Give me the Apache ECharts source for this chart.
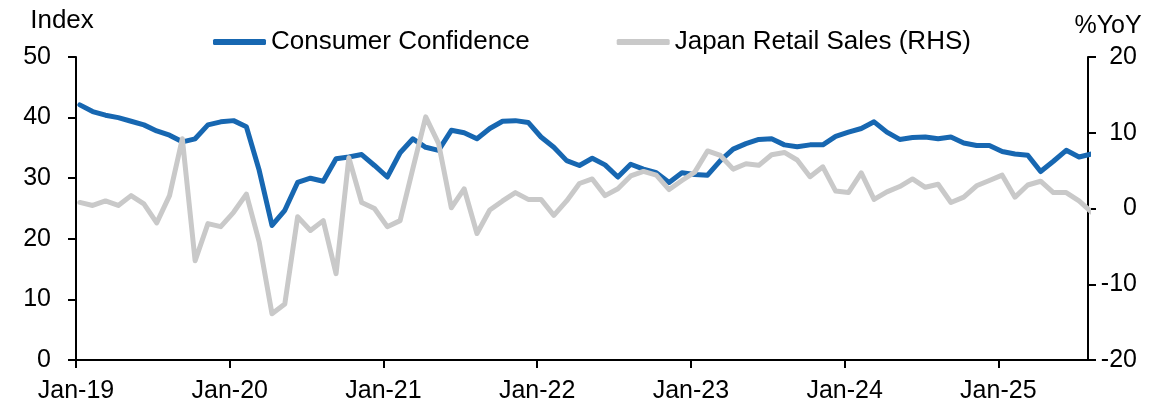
<!DOCTYPE html>
<html>
<head>
<meta charset="utf-8">
<script src="https://cdn.jsdelivr.net/npm/echarts@6/dist/echarts.min.js"></script>
<style>html,body{margin:0;padding:0;background:#fff}#c{width:1168px;height:409px}</style>
</head>
<body>
<div id="c"></div>
<script>
// Monthly categories Jan-19 .. Aug-25
const months = [];
for (let y = 19; y <= 25; y++) {
  ['Jan','Feb','Mar','Apr','May','Jun','Jul','Aug','Sep','Oct','Nov','Dec'].forEach(m => months.push(m + '-' + y));
}
months.length = 80;

const tickLabels = ['Jan-19','Jan-20','Jan-21','Jan-22','Jan-23','Jan-24','Jan-25'];
const leftTicks = [0, 10, 20, 30, 40, 50];
const rightTicks = [-20, -10, 0, 10, 20];

const consumerConfidence = [
  42.1, 41.0, 40.4, 40.0, 39.4, 38.8, 37.8, 37.1, 36.0, 36.5, 38.8, 39.3,
  39.5, 38.5, 31.3, 22.2, 24.7, 29.3, 30.0, 29.5, 33.2, 33.5, 33.9, 32.1,
  30.2, 34.2, 36.5, 35.1, 34.6, 37.9, 37.5, 36.5, 38.2, 39.4, 39.5, 39.2,
  36.8, 35.1, 32.9, 32.1, 33.3, 32.2, 30.2, 32.3, 31.5, 30.9, 29.3, 30.9,
  30.6, 30.5, 32.9, 34.8, 35.7, 36.4, 36.5, 35.5, 35.2, 35.5, 35.5, 36.9,
  37.6, 38.2, 39.3, 37.6, 36.4, 36.7, 36.8, 36.5, 36.8, 35.8, 35.4, 35.4,
  34.4, 34.0, 33.8, 31.1, 32.8, 34.6, 33.5, 34.0
];

const retailSales = [
  0.8, 0.4, 1.0, 0.4, 1.7, 0.6, -1.9, 1.7, 9.2, -6.9, -2.0, -2.4,
  -0.5, 1.9, -4.4, -13.9, -12.6, -1.1, -2.9, -1.6, -8.6, 6.7, 0.8, 0.0,
  -2.4, -1.6, 5.3, 12.1, 8.6, 0.1, 2.6, -3.3, -0.2, 1.0, 2.1, 1.2,
  1.2, -0.9, 1.0, 3.3, 3.9, 1.7, 2.6, 4.3, 4.9, 4.4, 2.5, 3.7,
  4.8, 7.6, 7.0, 5.2, 5.9, 5.7, 7.1, 7.4, 6.4, 4.2, 5.5, 2.3,
  2.1, 4.7, 1.2, 2.2, 2.9, 3.9, 2.8, 3.2, 0.8, 1.5, 3.0, 3.7,
  4.4, 1.5, 3.1, 3.6, 2.1, 2.1, 1.0, -0.5
];

// data points sit a little after the month tick (as in the source's date axis)
const pointOffset = 0.3;
const toPairs = arr => arr.map((v, i) => [i + pointOffset, v]);
const tickPositions = tickLabels.map((_, k) => k * 12);

const FONT = "'Liberation Sans', Arial, sans-serif";
const chart = echarts.init(document.getElementById('c'), null, {renderer: 'canvas'});
chart.setOption({
  animation: false,
  backgroundColor: '#ffffff',
  textStyle: {fontFamily: FONT, color: '#000'},
  grid: {left: 76, right: 80, top: 57, bottom: 49, containLabel: false},
  legend: {
    left: 208, top: 24,
    itemWidth: 53, itemHeight: 6, itemGap: 87,
    icon: 'roundRect',
    textStyle: {fontSize: 26, color: '#000', fontFamily: FONT},
    data: ['Consumer Confidence', 'Japan Retail Sales (RHS)']
  },
  xAxis: {
    type: 'value', min: 0, max: 79,
    axisLine: {onZero: false, lineStyle: {color: '#000', width: 2}},
    axisTick: {show: true, length: 8, inside: false, customValues: tickPositions, lineStyle: {color: '#000', width: 2}},
    axisLabel: {customValues: tickPositions, fontSize: 25, color: '#000', margin: 19, fontFamily: FONT,
      formatter: v => tickLabels[Math.round(v / 12)] || ''},
    splitLine: {show: false}
  },
  yAxis: [{
    type: 'value', min: leftTicks[0], max: leftTicks[leftTicks.length - 1], interval: 10,
    name: 'Index', nameLocation: 'end', nameGap: 23,
    nameTextStyle: {fontSize: 26, color: '#000', fontFamily: FONT, align: 'center', padding: [0, 28, 0, 0]},
    axisLine: {show: true, onZero: false, lineStyle: {color: '#000', width: 2}},
    axisTick: {show: true, length: 8, lineStyle: {color: '#000', width: 2}},
    axisLabel: {fontSize: 25, color: '#000', margin: 25, fontFamily: FONT},
    splitLine: {show: false}
  }, {
    type: 'value', position: 'right', min: rightTicks[0], max: rightTicks[rightTicks.length - 1], interval: 10,
    name: '%YoY', nameLocation: 'end', nameGap: 18,
    nameTextStyle: {fontSize: 25, color: '#000', fontFamily: FONT, align: 'center', padding: [0, 0, 0, 40]},
    axisLine: {show: true, onZero: false, lineStyle: {color: '#000', width: 2}},
    axisTick: {show: true, length: 8, lineStyle: {color: '#000', width: 2}},
    axisLabel: {fontSize: 25, color: '#000', margin: 49, align: 'right', fontFamily: FONT},
    splitLine: {show: false}
  }],
  series: [{
    name: 'Consumer Confidence', type: 'line', yAxisIndex: 0,
    data: toPairs(consumerConfidence), symbol: 'none', clip: true,
    lineStyle: {color: '#1767B1', width: 5, join: 'round', cap: 'round'},
    itemStyle: {color: '#1767B1'}
  }, {
    name: 'Japan Retail Sales (RHS)', type: 'line', yAxisIndex: 1,
    data: toPairs(retailSales), symbol: 'none', clip: true,
    lineStyle: {color: '#C9C9C9', width: 5, join: 'round', cap: 'round'},
    itemStyle: {color: '#C9C9C9'}
  }]
});
</script>
</body>
</html>
